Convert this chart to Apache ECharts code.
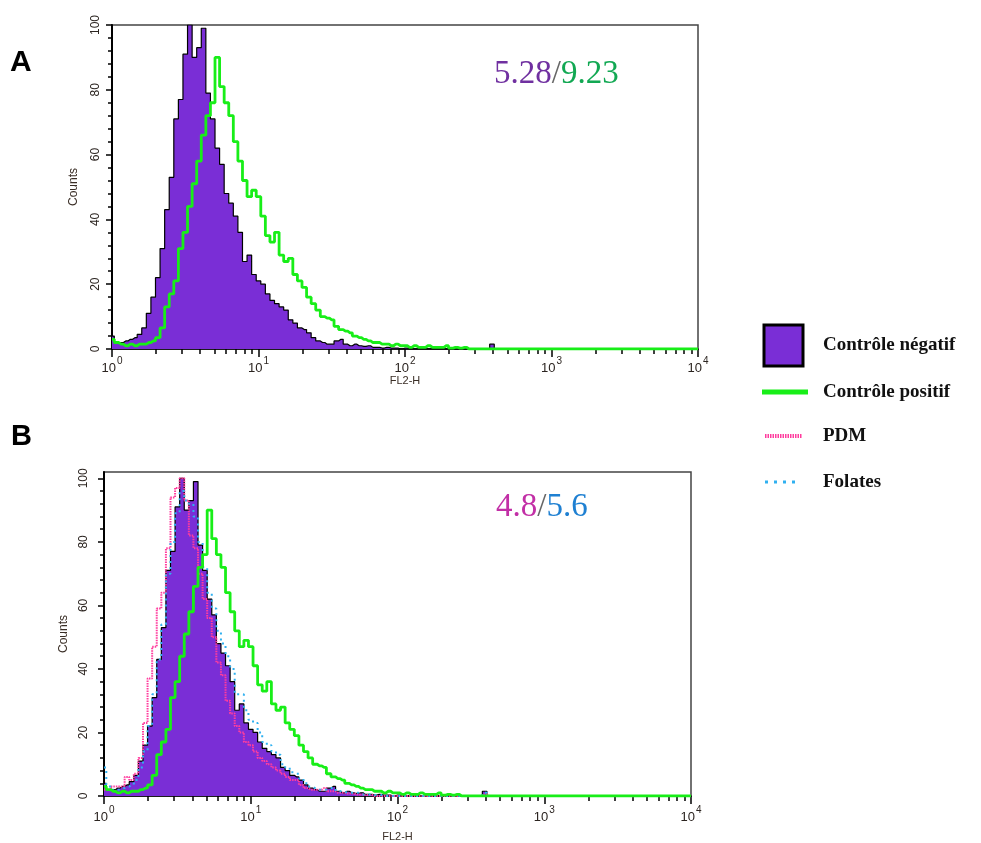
<!DOCTYPE html>
<html><head><meta charset="utf-8">
<script src="https://cdn.jsdelivr.net/npm/echarts@6/dist/echarts.min.js"></script>
<style>html,body{margin:0;padding:0;background:#fff}#c{width:981px;height:843px}</style>
</head><body><div id="c"></div>
<script>
// Histogram channels: 32 channels per decade, channel i sits at 10^(i/32) on FL2-H
const BINS_PER_DECADE = 32;
const decadeExponents = [0, 1, 2, 3, 4];
const countTicks = [0, 20, 40, 60, 80, 100];

// Counts per channel
const controleNegatif = [
  4,2,2,2.5,3,3.5,4.5,6.5,11,16,
  22,31,43,53,71,77,91,100,90,93,
  99,79,71,62,57,48,45,41,36,27,
  29,23,21,20,17,15,14,13,12,9,
  8,6.5,6,5,3.5,2.5,2,1.5,1.5,2.5,
  3,1.5,1,1.5,1,0.8,1,0.5,0.5,0.3,
  0.5,0.3,0.3,0,0.3,0,0,0,0,0,
  0,0,0,0,0,0,0,0,0,0,
  0,0,0,1.5,0,0,0,0,0,0,
  0,0,0,0,0,0,0,0,0,0,
  0,0,0,0,0,0,0,0,0,0,
  0,0,0,0,0,0,0,0,0,0,
  0,0,0,0,0,0,0,0,0
];
const controlePositif = [
  3,2,1.5,1,1.5,1,1.5,1.5,2,2.5,
  3.5,6.5,13,17,21,31,36,44,51,58,
  66,72,76,90,81,76,72,64,58,52,
  47,49,47,41,35,33,36,29,27,28,
  23,21,19,16,14,12,10,9.5,9,7,
  6,5.5,5,4,3.5,3,2.5,2,2,1.5,
  1.5,1,1.5,1,1,0.5,1,0.5,0.5,1,
  0.5,0.5,0.5,1,0.3,0.5,0.3,0.5,0,0,
  0,0,0,0,0,0,0,0,0,0,
  0,0,0,0,0,0,0,0,0,0,
  0,0,0,0,0,0,0,0,0,0,
  0,0,0,0,0,0,0,0,0,0,
  0,0,0,0,0,0,0,0,0
];
const pdm = [
  2,2,3,3,3,6,5,7,12,23,
  37,47,59,64,78,94,97,100,93,82,
  78,70,62,56,50,42,38,30,26,22,
  20,17,16,14,12,11,10,9,8,7,
  6,5,5,3.5,2.5,2,2,2,2.5,1.5,
  1.5,1,1,0.8,0.8,0.5,0.5,0.3,0.3,0,
  0,0,0,0,0,0,0,0,0,0,
  0,0,0,0,0,0,0,0,0,0,
  0,0,0,0.5,0,0,0,0,0,0,
  0,0,0,0,0,0,0,0,0,0,
  0,0,0,0,0,0,0,0,0,0,
  0,0,0,0,0,0,0,0,0,0,
  0,0,0,0,0,0,0,0,0
];
const folates = [
  9,3,2,2,2.5,3,3.5,5,9,14,
  22,32,43,54,70,80,89,96,93,92,
  88,80,72,64,59,52,48,44,40,32,
  32,27,24,23,20,17,16,14,13,10,
  9,7.5,7,5.5,4,3,2.5,2,2,2.5,
  2.5,1.5,1.5,1,1,1,0.5,0.5,0.5,0.3,
  0.3,0,0,0,0,0,0,0,0,0,
  0,0,0,0,0,0,0,0,0,0,
  0,0,0,1,0,0,0,0,0,0,
  0,0,0,0,0,0,0,0,0,0,
  0,0,0,0,0,0,0,0,0,0,
  0,0,0,0,0,0,0,0,0,0,
  0,0,0,0,0,0,0,0,0
];

const toPoints = arr => arr.map((v, i) => [i / BINS_PER_DECADE, v]);

const minorX = [];
for (let d = 0; d < 4; d++) for (let k = 2; k <= 9; k++) minorX.push(d + Math.log10(k));
const minorY = [];
for (let v = 4; v < 100; v += 4) if (v % 20 !== 0) minorY.push(v);

const PURPLE = '#7a2ed6';
const GREEN = '#18ee18';
const PINK = '#ff3d9e';
const BLUE = '#2fb0f0';
const labelColor = '#2b2420';

const rich = {
  b: { fontSize: 13, fontFamily: 'Arial, Liberation Sans', color: labelColor, lineHeight: 19, verticalAlign: 'bottom' },
  s: { fontSize: 10, fontFamily: 'Arial, Liberation Sans', color: labelColor, lineHeight: 10, verticalAlign: 'top', padding: [0, 0, 0, 1] }
};

function xAxes(g, margin, gap) {
  return [
    { gridIndex: g, type: 'value', position: 'bottom', min: 0, max: 4, interval: 1,
      axisLine: { show: true, onZero: false, lineStyle: { color: '#000', width: 1.5 } },
      axisTick: { show: true, length: 8, customValues: decadeExponents, lineStyle: { color: '#000', width: 1.5 } },
      axisLabel: { customValues: decadeExponents, margin: margin, formatter: v => '{b|10}{s|' + v + '}', rich: rich },
      splitLine: { show: false },
      name: 'FL2-H', nameLocation: 'middle', nameGap: gap,
      nameTextStyle: { fontSize: 11, fontFamily: 'Arial, Liberation Sans', color: '#3a2e26' } },
    { gridIndex: g, type: 'value', position: 'bottom', min: 0, max: 4,
      axisLine: { show: false },
      axisTick: { show: true, length: 5, customValues: minorX, lineStyle: { color: '#000', width: 1.5 } },
      axisLabel: { show: false }, splitLine: { show: false } }
  ];
}
function yAxes(g, max, margin, gap) {
  return [
    { gridIndex: g, type: 'value', position: 'left', min: 0, max: max, interval: 20,
      axisLine: { show: true, onZero: false, lineStyle: { color: '#000', width: 2 } },
      axisTick: { show: true, length: 6, customValues: countTicks, lineStyle: { color: '#000', width: 1.5 } },
      axisLabel: { customValues: countTicks, rotate: 90, margin: margin, fontSize: 12,
        fontFamily: 'Arial, Liberation Sans', color: labelColor },
      splitLine: { show: false },
      name: 'Counts', nameLocation: 'middle', nameGap: gap, nameRotate: 90,
      nameTextStyle: { fontSize: 12, fontFamily: 'Arial, Liberation Sans', color: '#3a2e26' } },
    { gridIndex: g, type: 'value', position: 'left', min: 0, max: max,
      axisLine: { show: false },
      axisTick: { show: true, length: 4, customValues: minorY, lineStyle: { color: '#000', width: 1.5 } },
      axisLabel: { show: false }, splitLine: { show: false } }
  ];
}

function negSeries(xi, yi) {
  return { name: 'Contrôle négatif', type: 'line', xAxisIndex: xi, yAxisIndex: yi, step: 'middle',
    data: toPoints(controleNegatif), showSymbol: false, symbol: 'none', z: 2,
    lineStyle: { color: '#000', width: 1.2 }, areaStyle: { color: PURPLE, opacity: 1 } };
}
function posSeries(xi, yi) {
  return { name: 'Contrôle positif', type: 'line', xAxisIndex: xi, yAxisIndex: yi, step: 'middle',
    data: toPoints(controlePositif), showSymbol: false, symbol: 'none', z: 5,
    lineStyle: { color: GREEN, width: 2.8 } };
}

const legendFont = 'bold 19px "Liberation Serif", "Times New Roman", serif';

const option = {
  animation: false,
  backgroundColor: '#fff',
  grid: [
    { left: 112, top: 25, width: 586, height: 324, show: true, borderColor: '#444', borderWidth: 1.5 },
    { left: 104, top: 472, width: 587, height: 326, show: true, borderColor: '#444', borderWidth: 1.5 }
  ],
  xAxis: [...xAxes(0, 7, 25), ...xAxes(1, 9, 35)],
  yAxis: [...yAxes(0, 100, 10, 32), ...yAxes(1, 102, 14, 32)],
  series: [
    negSeries(0, 0),
    posSeries(0, 0),
    negSeries(2, 2),
    { name: 'PDM', type: 'line', xAxisIndex: 2, yAxisIndex: 2, step: 'middle',
      data: toPoints(pdm), showSymbol: false, symbol: 'none', z: 3,
      lineStyle: { color: PINK, width: 2, type: [1.5, 1] } },
    { name: 'Folates', type: 'line', xAxisIndex: 2, yAxisIndex: 2, step: 'middle',
      data: toPoints(folates), showSymbol: false, symbol: 'none', z: 4,
      lineStyle: { color: BLUE, width: 2, type: [2, 4] } },
    posSeries(2, 2)
  ],
  graphic: [
    { type: 'text', left: 10, top: 48, style: { text: 'A', font: 'bold 30px Arial, "Liberation Sans"', fill: '#000' } },
    { type: 'text', left: 11, top: 422, style: { text: 'B', font: 'bold 29px Arial, "Liberation Sans"', fill: '#000' } },
    { type: 'text', left: 494, top: 58, style: {
        text: '{p|5.28}{s|/}{g|9.23}',
        rich: {
          p: { fontSize: 33, fontFamily: '"Liberation Serif", serif', fill: '#7030a0' },
          s: { fontSize: 33, fontFamily: '"Liberation Serif", serif', fill: '#666' },
          g: { fontSize: 33, fontFamily: '"Liberation Serif", serif', fill: '#12a853' }
        } } },
    { type: 'text', left: 496, top: 491, style: {
        text: '{p|4.8}{s|/}{g|5.6}',
        rich: {
          p: { fontSize: 33, fontFamily: '"Liberation Serif", serif', fill: '#c22fa6' },
          s: { fontSize: 33, fontFamily: '"Liberation Serif", serif', fill: '#666' },
          g: { fontSize: 33, fontFamily: '"Liberation Serif", serif', fill: '#1f80d2' }
        } } },
    // legend
    { type: 'rect', shape: { x: 764, y: 325, width: 39, height: 41 },
      style: { fill: PURPLE, stroke: '#000', lineWidth: 3 } },
    { type: 'text', x: 823, y: 345, style: { text: 'Contrôle négatif', font: legendFont, fill: '#111', verticalAlign: 'middle' } },
    { type: 'line', shape: { x1: 762, y1: 392, x2: 808, y2: 392 }, style: { stroke: GREEN, lineWidth: 5 } },
    { type: 'text', x: 823, y: 392, style: { text: 'Contrôle positif', font: legendFont, fill: '#111', verticalAlign: 'middle' } },
    { type: 'line', shape: { x1: 765, y1: 436, x2: 802, y2: 436 }, style: { stroke: PINK, lineWidth: 4, lineDash: [1.5, 1] } },
    { type: 'text', x: 823, y: 436, style: { text: 'PDM', font: legendFont, fill: '#111', verticalAlign: 'middle' } },
    { type: 'line', shape: { x1: 765, y1: 482, x2: 800, y2: 482 }, style: { stroke: BLUE, lineWidth: 3, lineDash: [3, 6] } },
    { type: 'text', x: 823, y: 482, style: { text: 'Folates', font: legendFont, fill: '#111', verticalAlign: 'middle' } }
  ]
};

const chart = echarts.init(document.getElementById('c'), null, { renderer: 'canvas' });
chart.setOption(option);
</script></body></html>
